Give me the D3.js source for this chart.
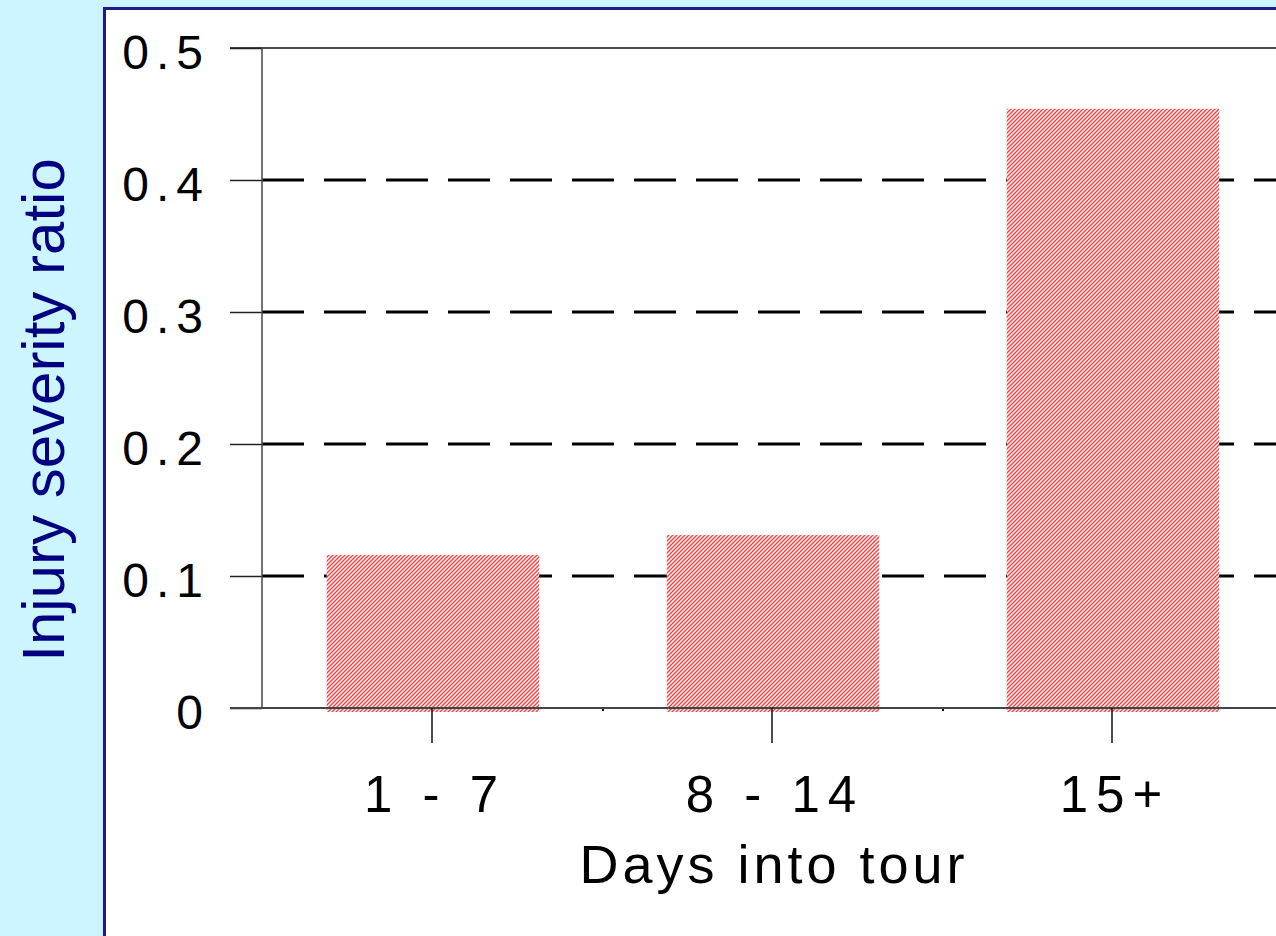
<!DOCTYPE html>
<html>
<head>
<meta charset="utf-8">
<script src="https://cdn.jsdelivr.net/npm/d3@7"></script>
<style>
  html, body { margin: 0; padding: 0; background: #ccf5ff; }
  svg { display: block; }
</style>
</head>
<body>
<script>
// Injury severity ratio by period of the tour
const categories = ["1 - 7", "8 - 14", "15+"];
const severityRatio = [0.116, 0.131, 0.454];
const yTicks = [0, 0.1, 0.2, 0.3, 0.4, 0.5];
const yTickLabels = ["0", "0.1", "0.2", "0.3", "0.4", "0.5"];
const xTitle = "Days into tour";
const yTitle = "Injury severity ratio";

const W = 1276, H = 936;
const svg = d3.select("body").append("svg")
  .attr("width", W).attr("height", H);

// hatch fill for the bars
const defs = svg.append("defs");
const pat = defs.append("pattern")
  .attr("id", "hatch")
  .attr("patternUnits", "userSpaceOnUse")
  .attr("width", 4).attr("height", 4);
pat.append("rect").attr("width", 4).attr("height", 4).attr("fill", "#fff");
pat.append("path")
  .attr("d", "M-1,1 L1,-1 M0,4 L4,0 M3,5 L5,3")
  .attr("stroke", "#ff3c3c").attr("stroke-width", 1.4);

// background and white panel
svg.append("rect").attr("width", W).attr("height", H).attr("fill", "#ccf5ff");
svg.append("rect")
  .attr("x", 104.5).attr("y", 8.5)
  .attr("width", W).attr("height", H)
  .attr("fill", "#fff")
  .attr("stroke", "#1e1a8a").attr("stroke-width", 3);

const x0 = 263, x1 = 1283;
const x = d3.scaleBand().domain(categories).range([x0, x1])
  .paddingInner(0.375).paddingOuter(0.1875);
const y = d3.scaleLinear().domain([0, 0.5]).range([708, 48]);

const font = "'Liberation Sans', Arial, sans-serif";

// dashed gridlines at inner ticks
const g = svg.append("g");
g.selectAll("line.grid")
  .data(yTicks.filter(t => t > 0 && t < 0.5))
  .join("line")
  .attr("class", "grid")
  .attr("x1", x0 - 1).attr("x2", W)
  .attr("y1", d => y(d)).attr("y2", d => y(d))
  .attr("stroke", "#000").attr("stroke-width", 3)
  .attr("stroke-dasharray", "42 20");

// top line at the maximum
g.append("line")
  .attr("x1", 230).attr("x2", W)
  .attr("y1", y(0.5)).attr("y2", y(0.5))
  .attr("stroke", "#111").attr("stroke-width", 1.5);

// bars
svg.append("g").selectAll("rect.bar")
  .data(severityRatio)
  .join("rect")
  .attr("class", "bar")
  .attr("x", (d, i) => x(categories[i]))
  .attr("width", x.bandwidth())
  .attr("y", d => y(d))
  .attr("height", d => y(0) - y(d) + 4)
  .attr("fill", "url(#hatch)");

// y axis
const yAxis = d3.axisLeft(y).tickValues(yTicks)
  .tickSize(32).tickPadding(0)
  .tickFormat(() => "");
const ya = svg.append("g").attr("transform", `translate(${x0 - 1},0)`).call(yAxis);
ya.select(".domain").remove();
ya.selectAll(".tick line").attr("stroke", "#222").attr("stroke-width", 1.5);

svg.append("line")
  .attr("x1", x0 - 1).attr("x2", x0 - 1)
  .attr("y1", y(0.5)).attr("y2", y(0))
  .attr("stroke", "#444").attr("stroke-width", 1.5);

svg.append("g").selectAll("text.ylab")
  .data(yTicks)
  .join("text")
  .attr("class", "ylab")
  .attr("x", 210)
  .attr("y", d => y(d) + 21)
  .attr("text-anchor", "end")
  .attr("font-family", font)
  .attr("font-size", 48)
  .attr("letter-spacing", 7)
  .attr("fill", "#000")
  .text((d, i) => yTickLabels[i]);

// x axis baseline
svg.append("line")
  .attr("x1", 230).attr("x2", W)
  .attr("y1", y(0)).attr("y2", y(0))
  .attr("stroke", "#444").attr("stroke-width", 2);

// category ticks
svg.append("g").selectAll("line.xt")
  .data(categories)
  .join("line")
  .attr("class", "xt")
  .attr("x1", d => x(d) + x.bandwidth() / 2 - 1)
  .attr("x2", d => x(d) + x.bandwidth() / 2 - 1)
  .attr("y1", y(0)).attr("y2", y(0) + 35)
  .attr("stroke", "#111").attr("stroke-width", 1.5);

// small marks between categories
svg.append("g").selectAll("rect.mt")
  .data(categories.slice(1))
  .join("rect")
  .attr("class", "mt")
  .attr("x", d => x(d) - x.step() * x.paddingInner() / 2 - 1)
  .attr("y", y(0) + 1)
  .attr("width", 2).attr("height", 2)
  .attr("fill", "#111");

svg.append("g").selectAll("text.xlab")
  .data(categories)
  .join("text")
  .attr("class", "xlab")
  .attr("x", d => x(d) + x.bandwidth() / 2 + 2)
  .attr("y", 812)
  .attr("text-anchor", "middle")
  .attr("font-family", font)
  .attr("font-size", 51)
  .attr("letter-spacing", 8)
  .attr("fill", "#000")
  .text(d => d);

// axis titles
svg.append("text")
  .attr("x", 774).attr("y", 883)
  .attr("text-anchor", "middle")
  .attr("font-family", font)
  .attr("font-size", 54)
  .attr("letter-spacing", 4)
  .attr("fill", "#000")
  .text(xTitle);

svg.append("text")
  .attr("transform", "translate(64,410) rotate(-90)")
  .attr("text-anchor", "middle")
  .attr("font-family", font)
  .attr("font-size", 60)
  .attr("fill", "#000080")
  .text(yTitle);
</script>
</body>
</html>
